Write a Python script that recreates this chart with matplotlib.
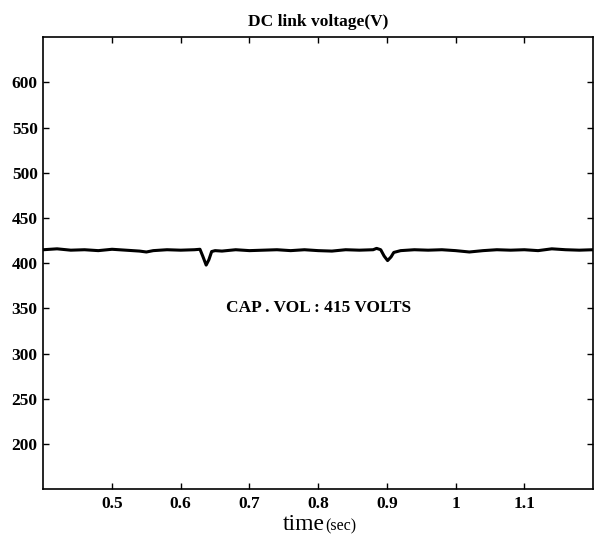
import matplotlib
matplotlib.use('Agg')
import matplotlib.pyplot as plt

# datos (tension del bus DC)
time_s = [0.40, 0.42, 0.44, 0.46, 0.48, 0.50, 0.52, 0.54, 0.55, 0.56, 0.58, 0.60, 0.62,
          0.628, 0.632, 0.637, 0.641, 0.645, 0.65, 0.66, 0.68, 0.70, 0.72, 0.74, 0.76,
          0.78, 0.80, 0.82, 0.84, 0.86, 0.88, 0.885, 0.891, 0.896, 0.901, 0.906, 0.910,
          0.915, 0.92, 0.94, 0.96, 0.98, 1.00, 1.02, 1.04, 1.06, 1.08, 1.10, 1.12, 1.14,
          1.16, 1.18, 1.20]
voltage = [415, 416, 414.5, 415, 414, 415.5, 414.5, 413.5, 412.5, 414, 415, 414.5, 415,
           415.5, 408, 398, 404, 413, 414, 413.5, 415, 414, 414.5, 415, 414,
           415, 414, 413.5, 415, 414.5, 415, 416.5, 415, 408, 403, 407, 412,
           413, 414, 415, 414.5, 415, 414, 412.5, 414, 415, 414.5, 415, 414, 416,
           415, 414.5, 415]

x_ticks = [0.5, 0.6, 0.7, 0.8, 0.9, 1.0, 1.1]
x_tick_labels = ['0.5', '0.6', '0.7', '0.8', '0.9', '1', '1.1']
y_ticks = [200, 250, 300, 350, 400, 450, 500, 550, 600]

plt.rcParams['font.family'] = ['Liberation Serif', 'DejaVu Serif']

fig = plt.figure(figsize=(5.94, 5.45), dpi=100)
ax = fig.add_axes([0.0729, 0.1022, 0.9255, 0.8294])

ax.plot(time_s, voltage, color='black', linewidth=2.2)

ax.set_xlim(0.4, 1.2)
ax.set_ylim(150, 650)
ax.set_xticks(x_ticks)
ax.set_xticklabels(x_tick_labels)
ax.set_yticks(y_ticks)
ax.tick_params(direction='in', top=True, right=True, length=4, width=1,
               labelsize=12.5)
ax.tick_params(axis='x', pad=5)
ax.tick_params(axis='y', pad=4)
for lbl in ax.get_xticklabels() + ax.get_yticklabels():
    lbl.set_fontweight('bold')
for s in ax.spines.values():
    s.set_linewidth(1.2)

ax.set_title('DC link voltage(V)', fontsize=12.5, fontweight='bold', pad=8)
ax.text(0.8, 350, 'CAP . VOL : 415 VOLTS', fontsize=12.5, fontweight='bold',
        ha='center', va='center')

# etiqueta del eje x: "time" grande y "(sec)" chico
fig.text(0.547, 0.027, 'time', fontsize=17, ha='right', va='baseline')
fig.text(0.547, 0.027, '(sec)', fontsize=11.5, ha='left', va='baseline')

fig.savefig('out.png', dpi=100)
